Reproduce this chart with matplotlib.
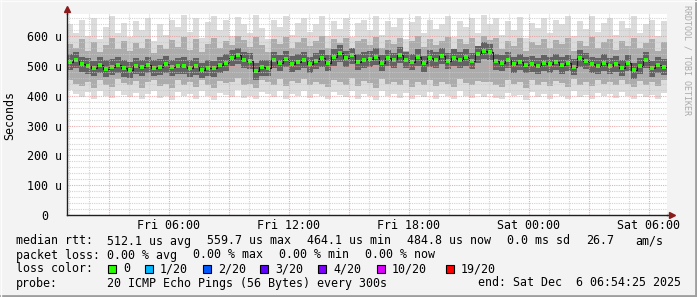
#!/usr/bin/env python3
import matplotlib
matplotlib.use("Agg")
import matplotlib.pyplot as plt
from matplotlib.patches import Rectangle
from matplotlib.lines import Line2D
import numpy as np

# 30 h window, one sample every 0.3 h, hours counted from Fri 00:00
start = 0.907
step = 0.3

median = [515, 520, 508, 500, 494, 503, 490, 498, 505, 492,
          488, 500, 496, 503, 494, 498, 506, 497, 500, 502,
          493, 499, 487, 495, 492, 505, 512, 528, 536, 522,
          518, 482, 496, 494, 520, 511, 524, 508, 515, 521,
          506, 518, 526, 512, 530, 543, 526, 536, 515, 519,
          524, 532, 511, 528, 519, 537, 522, 515, 530, 509,
          526, 520, 534, 517, 528, 522, 531, 518, 540, 552,
          548, 516, 512, 520, 506, 513, 504, 508, 502, 510,
          506, 515, 503, 511, 498, 527, 518, 506, 502, 512,
          500, 507, 495, 510, 486, 500, 520, 492, 505, 498]

ping_max = [640, 610, 655, 600, 660, 590, 630, 668, 612, 645,
            598, 650, 620, 662, 585, 640, 605, 655, 630, 670,
            615, 660, 595, 648, 668, 620, 655, 600, 665, 640,
            610, 670, 628, 590, 655, 632, 668, 605, 645, 660,
            615, 640, 668, 600, 650, 625, 662, 598, 645, 655,
            620, 668, 605, 650, 632, 660, 590, 648, 668, 612,
            655, 625, 640, 668, 598, 652, 630, 660, 612, 670,
            640, 662, 605, 650, 620, 665, 595, 645, 628, 660,
            610, 655, 640, 668, 600, 650, 625, 668, 615, 645,
            660, 605, 650, 628, 668, 612, 640, 655, 600, 650]

ping_min = [420, 405, 395, 412, 388, 415, 400, 392, 418, 402,
            395, 410, 388, 405, 415, 392, 400, 385, 412, 398,
            405, 390, 415, 398, 386, 410, 402, 395, 420, 392,
            400, 388, 412, 405, 395, 418, 390, 408, 400, 415,
            392, 405, 398, 388, 412, 402, 395, 418, 390, 408,
            400, 386, 415, 398, 405, 392, 410, 388, 402, 396,
            412, 390, 405, 398, 388, 415, 400, 392, 408, 396,
            405, 392, 388, 410, 398, 402, 386, 412, 395, 405,
            390, 408, 400, 388, 415, 395, 402, 390, 410, 398,
            405, 392, 412, 398, 388, 408, 395, 402, 390, 410]

mid_hi = [575, 560, 590, 552, 580, 548, 570, 595, 558, 585,
          550, 578, 562, 592, 545, 572, 556, 588, 565, 598,
          555, 590, 548, 575, 596, 560, 585, 570, 600, 588,
          565, 598, 572, 548, 590, 575, 598, 560, 582, 594,
          568, 585, 600, 562, 590, 578, 596, 560, 584, 592,
          570, 598, 560, 588, 575, 595, 552, 586, 600, 565,
          592, 570, 584, 598, 556, 590, 575, 596, 568, 600,
          588, 596, 558, 585, 566, 594, 550, 580, 570, 592,
          560, 588, 575, 596, 552, 584, 568, 598, 562, 580,
          592, 555, 585, 568, 596, 560, 578, 590, 552, 582]

mid_lo = [455, 440, 432, 448, 428, 452, 438, 430, 458, 442,
          435, 450, 428, 445, 455, 432, 440, 426, 452, 438,
          445, 430, 455, 438, 428, 450, 442, 448, 460, 435,
          440, 428, 452, 445, 438, 458, 432, 450, 442, 456,
          435, 448, 440, 430, 455, 445, 438, 460, 432, 450,
          442, 428, 458, 440, 448, 435, 452, 430, 445, 438,
          455, 432, 448, 440, 430, 458, 442, 435, 450, 446,
          448, 435, 430, 452, 440, 445, 428, 455, 438, 448,
          432, 450, 442, 430, 458, 438, 445, 432, 452, 440,
          448, 435, 455, 440, 430, 450, 438, 445, 432, 452]

core_hi = [540, 548, 530, 528, 518, 530, 520, 525, 532, 520,
           515, 528, 522, 530, 520, 525, 534, 522, 528, 530,
           520, 526, 512, 522, 518, 532, 540, 555, 562, 548,
           545, 510, 522, 520, 548, 538, 552, 535, 542, 548,
           532, 545, 555, 538, 558, 570, 552, 562, 540, 546,
           552, 560, 538, 555, 545, 565, 548, 542, 558, 535,
           554, 546, 562, 544, 556, 548, 558, 545, 568, 580,
           575, 542, 538, 548, 532, 540, 530, 535, 528, 538,
           532, 542, 530, 538, 525, 555, 545, 532, 528, 540,
           526, 535, 520, 538, 512, 528, 548, 518, 532, 525]

core_lo = [488, 494, 480, 472, 466, 476, 462, 470, 478, 465,
           460, 472, 468, 476, 466, 470, 478, 468, 472, 475,
           465, 470, 460, 468, 464, 478, 485, 500, 508, 495,
           490, 455, 468, 466, 492, 484, 496, 480, 488, 494,
           478, 490, 498, 484, 502, 515, 498, 508, 488, 492,
           496, 504, 484, 500, 492, 510, 494, 488, 502, 480,
           498, 492, 506, 490, 500, 494, 502, 490, 512, 524,
           520, 488, 484, 492, 478, 486, 476, 480, 474, 482,
           478, 488, 475, 484, 470, 498, 490, 478, 474, 484,
           472, 480, 466, 482, 458, 472, 492, 464, 478, 470]

y_ticks = [0, 100, 200, 300, 400, 500, 600]
y_labels = ["0", "100 u", "200 u", "300 u", "400 u", "500 u", "600 u"]
x_ticks = [6, 12, 18, 24, 30]
x_labels = ["Fri 06:00", "Fri 12:00", "Fri 18:00", "Sat 00:00", "Sat 06:00"]

loss_names = ["0", "1/20", "2/20", "3/20", "4/20", "10/20", "19/20"]
loss_colors = ["#26ff00", "#00b8ff", "#0059ff", "#5e00ff", "#7e00ff", "#dd00ff", "#ff0000"]

MONO = "DejaVu Sans Mono"
FS = 8.4
W, H = 697, 297

fig = plt.figure(figsize=(W / 100, H / 100), dpi=100, facecolor="#f3f3f3")
ax = fig.add_axes([67 / W, 1 - 215 / H, 600 / W, 201 / H])
ax.set_facecolor("white")

n = len(median)
t = start + step * np.arange(n + 1)
tc = t[:-1] + step / 2


def ext(a):
    return list(a) + [a[-1]]


ax.fill_between(t, ext(ping_min), ext(ping_max), step="post", color="#dcdcdc", lw=0)
ax.fill_between(t, ext(mid_lo), ext(mid_hi), step="post", color="#acacac", lw=0)
ax.fill_between(t, ext(core_lo), ext(core_hi), step="post", color="#626262", lw=0)
ax.step(t, ext(median), where="post", color="#1a1a1a", lw=0.8, zorder=3)
ax.plot(tc, median, ls="none", marker="s", ms=3.2, mew=0, color="#26ff00", zorder=4)

ax.set_xlim(start, start + step * n)
ax.set_ylim(0, 675)

# rrdtool style grid, drawn over the data
for v in range(0, 680, 20):
    major = v % 100 == 0
    ax.axhline(v, color="#e59a9a" if major else "#c8c8c8", lw=0.8,
               ls=(0, (1, 1)), alpha=0.8, zorder=5)
for h in range(1, 31):
    if h > start:
        major = h % 3 == 0
        ax.axvline(h, color="#e59a9a" if major else "#c8c8c8", lw=0.8,
                   ls=(0, (1, 1)), alpha=0.8, zorder=5)

for s in ["top", "right"]:
    ax.spines[s].set_visible(False)
for s in ["left", "bottom"]:
    ax.spines[s].set_color("#202020")
    ax.spines[s].set_linewidth(1.0)
    ax.spines[s].set_zorder(6)

ax.set_yticks(y_ticks)
ax.set_yticklabels(y_labels, family=MONO, fontsize=FS)
for lbl in ax.get_yticklabels():
    lbl.set_ha("center")
ax.tick_params(axis="y", length=0, pad=16.2)
ax.set_xticks(x_ticks)
ax.set_xticklabels(x_labels, family=MONO, fontsize=FS)
ax.tick_params(axis="x", length=0, pad=3)

# axis arrows
fig.add_artist(Line2D([667 / W, 672 / W], [1 - 215 / H] * 2, color="#202020", lw=1))
fig.add_artist(Line2D([67 / W] * 2, [1 - 14 / H, 1 - 10 / H], color="#202020", lw=1))
fig.add_artist(Line2D([672 / W], [1 - 215 / H], marker=">", color="#8b1a1a", ms=4, lw=0))
fig.add_artist(Line2D([67 / W], [1 - 9 / H], marker="^", color="#8b1a1a", ms=4, lw=0))

fig.text(10 / W, 1 - 115 / H, "Seconds", rotation=90, family=MONO, fontsize=FS,
         ha="center", va="center")
fig.text(687 / W, 1 - 5 / H, "RRDTOOL / TOBI OETIKER", rotation=270, family=MONO,
         fontsize=6.0, color="#aaaaaa", ha="center", va="top")


def txt(x, y, s):
    fig.text(x / W, 1 - y / H, s, family=MONO, fontsize=FS, ha="left", va="center")


txt(16, 241, "median rtt:")
txt(107, 241, "512.1 us avg")
txt(207, 241, "559.7 us max")
txt(307, 241, "464.1 us min")
txt(407, 241, "484.8 us now")
txt(507, 241, "0.0 ms sd")
txt(586, 241, "26.7")
txt(635, 241, "am/s")

txt(16, 255, "packet loss:")
txt(107, 255, "0.00 % avg")
txt(193, 255, "0.00 % max")
txt(279, 255, "0.00 % min")
txt(365, 255, "0.00 % now")

txt(16, 269, "loss color:")
box_x = [108, 145, 203, 260, 318, 377, 446]
for bx, name, col in zip(box_x, loss_names, loss_colors):
    fig.add_artist(Rectangle((bx / W, 1 - 273 / H), 8 / W, 8 / H, facecolor=col,
                             edgecolor="black", lw=0.8))
    txt(bx + 15, 269, name)

txt(16, 283, "probe:")
txt(107, 283, "20 ICMP Echo Pings (56 Bytes) every 300s")
txt(478, 283, "end: Sat Dec  6 06:54:25 2025")

# 3d frame
fig.add_artist(Line2D([0, 1], [1 / H, 1 / H], color="#9e9e9e", lw=2))
fig.add_artist(Line2D([1 - 1 / W, 1 - 1 / W], [0, 1], color="#9e9e9e", lw=2))
fig.add_artist(Line2D([0, 1], [1 - 0.5 / H] * 2, color="#fcfcfc", lw=1))
fig.add_artist(Line2D([0.5 / W] * 2, [0, 1], color="#fcfcfc", lw=1))

fig.savefig("out.png", dpi=100, facecolor=fig.get_facecolor())
